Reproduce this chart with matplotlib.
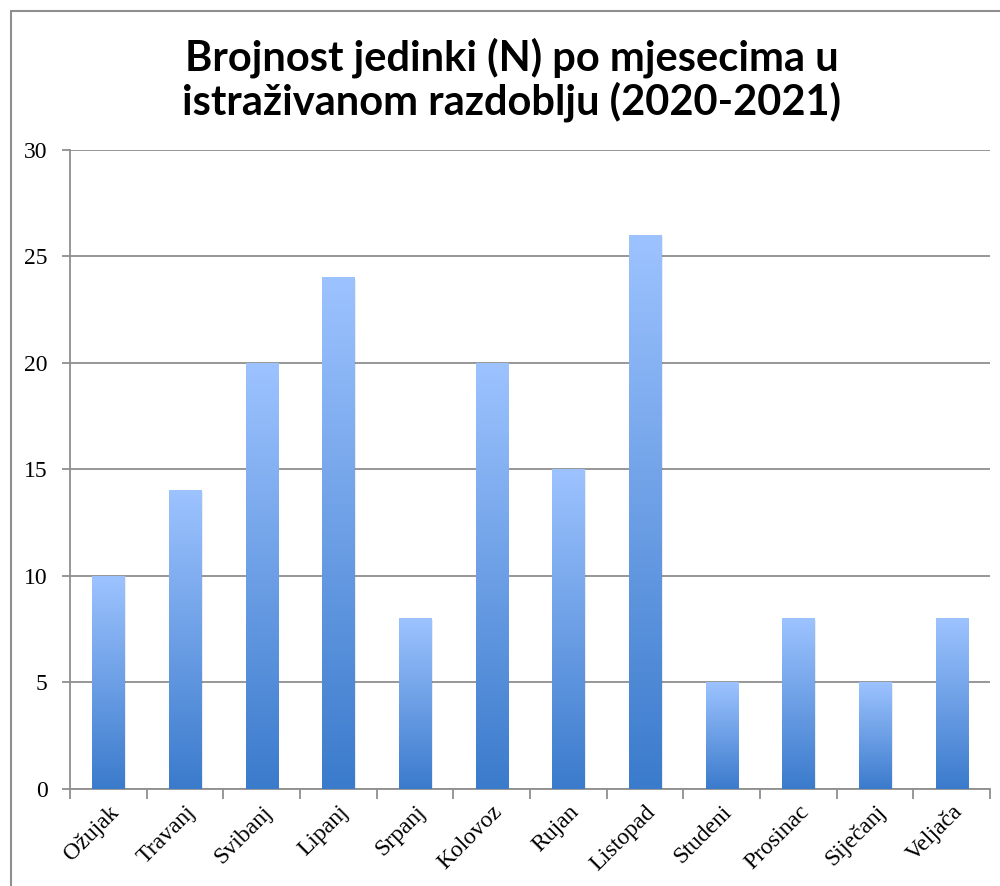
import numpy as np
import matplotlib.pyplot as plt
from matplotlib.colors import LinearSegmentedColormap
from matplotlib.patches import Rectangle

months = ['Ožujak', 'Travanj', 'Svibanj', 'Lipanj', 'Srpanj', 'Kolovoz',
          'Rujan', 'Listopad', 'Studeni', 'Prosinac', 'Siječanj', 'Veljača']
counts = [10, 14, 20, 24, 8, 20, 15, 26, 5, 8, 5, 8]
yticks = [0, 5, 10, 15, 20, 25, 30]

grey = '#8f8f8f'
cmap = LinearSegmentedColormap.from_list('blues', ['#3b7bcc', '#9dc3ff'])

fig = plt.figure(figsize=(10, 8.86), dpi=100)
ax = fig.add_axes([0.07, 0.1095, 0.92, 0.7212])

x = np.arange(len(months))
bars = ax.bar(x, counts, width=0.42, color='none', zorder=3)

# vertical gradient fill inside each bar
grad = np.linspace(0, 1, 256).reshape(-1, 1)
for b in bars:
    x0, w, h = b.get_x(), b.get_width(), b.get_height()
    # soft shadow
    ax.add_patch(Rectangle((x0 + 0.02, 0), w, h - 0.08, color='#000000',
                           alpha=0.08, lw=0, zorder=2))
    ax.imshow(grad, cmap=cmap, origin='lower', aspect='auto',
              extent=(x0, x0 + w, 0, h), zorder=3)

ax.set_xlim(-0.5, len(months) - 0.5)
ax.set_ylim(0, 30)
ax.set_yticks(yticks)
ax.yaxis.grid(True, color=grey, lw=1.3, zorder=0)
ax.set_axisbelow(True)

ax.set_xticks(x)
ax.set_xticklabels(months, rotation=45, ha='right', rotation_mode='anchor',
                   family='Liberation Serif', fontsize=17)
ax.set_xticks(np.arange(len(months) + 1) - 0.5, minor=True)
ax.tick_params(axis='x', which='major', length=0, pad=9)
ax.tick_params(axis='x', which='minor', length=7, color=grey, width=1.3)
ax.tick_params(axis='y', length=6, color=grey, width=1.3, pad=10)
for lab in ax.get_yticklabels():
    lab.set_family('Liberation Serif')
    lab.set_fontsize(17)

for s in ['top', 'right']:
    ax.spines[s].set_visible(False)
for s in ['left', 'bottom']:
    ax.spines[s].set_color(grey)
    ax.spines[s].set_linewidth(1.3)

fig.text(0.512, 0.9097, 'Brojnost jedinki (N) po mjesecima u\nistraživanom razdoblju (2020-2021)',
         ha='center', va='center', fontsize=30, fontweight='bold',
         family=['Lato', 'DejaVu Sans'], linespacing=1.1)

fig.add_artist(Rectangle((0.011, -0.01), 1.2, 0.998, transform=fig.transFigure,
                         fill=False, ec=grey, lw=1.5))

fig.savefig('out.png', dpi=100)
